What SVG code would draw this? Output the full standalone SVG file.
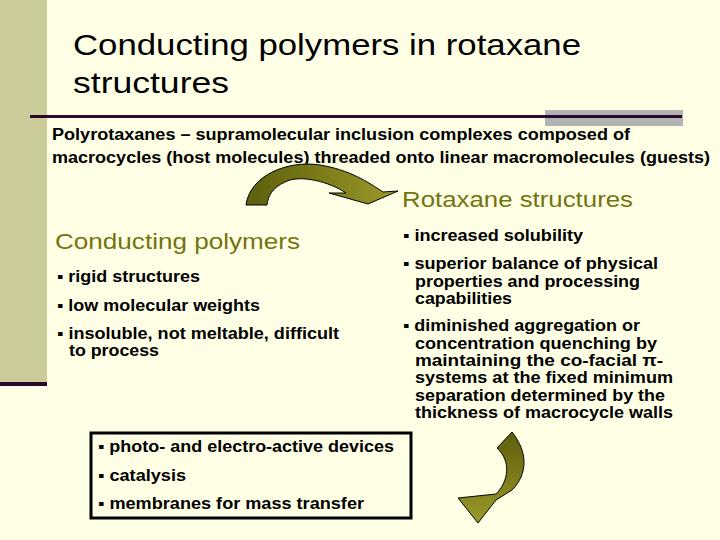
<svg xmlns="http://www.w3.org/2000/svg" width="720" height="540" viewBox="0 0 720 540">
<defs>
<linearGradient id="g1" x1="0" y1="0" x2="1" y2="0"><stop offset="0" stop-color="#5e5e0c"/><stop offset="1" stop-color="#9a9a2a"/></linearGradient>
<linearGradient id="g2" x1="0" y1="0" x2="0" y2="1"><stop offset="0" stop-color="#5e5e0c"/><stop offset="1" stop-color="#9a9a2a"/></linearGradient>
<style>
text{font-family:"Liberation Sans",Arial,sans-serif;fill:#000}
.t{font-size:30px}
.b{font-size:16px;font-weight:bold}
.h{font-size:22px;fill:#74740e}
.arr{stroke:#000;stroke-width:1}
</style>
</defs>
<rect width="720" height="540" fill="#ffffe6"/>
<rect x="0" y="0" width="47" height="382" fill="#cccc9a"/>
<rect x="0" y="382" width="47" height="4" fill="#2a0a2a"/>
<rect x="545" y="110" width="138" height="16" fill="#b3b3b3"/>
<rect x="30" y="115" width="652" height="3" fill="#2a0a2a"/>
<g id="title">
<text class="t" x="73" y="55" textLength="508" lengthAdjust="spacingAndGlyphs">Conducting polymers in rotaxane</text>
<text class="t" x="73" y="93" textLength="156" lengthAdjust="spacingAndGlyphs">structures</text>
</g>
<g id="intro">
<text class="b" x="52" y="140" textLength="578" lengthAdjust="spacingAndGlyphs">Polyrotaxanes – supramolecular inclusion complexes composed of</text>
<text class="b" x="52" y="163" textLength="658" lengthAdjust="spacingAndGlyphs">macrocycles (host molecules) threaded onto linear macromolecules (guests)</text>
</g>
<g id="connectors">
<path class="arr" fill="url(#g1)" d="M246,205 C250,175 288,160 320,165 C350,170 368,182 383,192 L398,191 L368,204 L329,193 L346,193 C330,182 300,174 285,182 C272,188 268,196 267,205 Z"/>
<path class="arr" fill="url(#g2)" d="M512,432 L497,448 C512,462 508,482 496,494 L458,498 L478,523 L496,500 L512,490 C528,474 528,452 512,432 Z"/>
</g>
<g id="rotaxane">
<text class="h" x="402" y="207" textLength="231" lengthAdjust="spacingAndGlyphs">Rotaxane structures</text>
<text class="b" x="403" y="241" textLength="180" lengthAdjust="spacingAndGlyphs">▪ increased solubility</text>
<text class="b" x="403" y="269" textLength="255" lengthAdjust="spacingAndGlyphs">▪ superior balance of physical</text>
<text class="b" x="415" y="287" textLength="225" lengthAdjust="spacingAndGlyphs">properties and processing</text>
<text class="b" x="415" y="304" textLength="97" lengthAdjust="spacingAndGlyphs">capabilities</text>
<text class="b" x="403" y="331" textLength="237" lengthAdjust="spacingAndGlyphs">▪ diminished aggregation or</text>
<text class="b" x="415" y="349" textLength="242" lengthAdjust="spacingAndGlyphs">concentration quenching by</text>
<text class="b" x="415" y="366" textLength="248" lengthAdjust="spacingAndGlyphs">maintaining the co-facial π-</text>
<text class="b" x="415" y="383" textLength="258" lengthAdjust="spacingAndGlyphs">systems at the fixed minimum</text>
<text class="b" x="415" y="401" textLength="250" lengthAdjust="spacingAndGlyphs">separation determined by the</text>
<text class="b" x="415" y="418" textLength="258" lengthAdjust="spacingAndGlyphs">thickness of macrocycle walls</text>
</g>
<g id="conducting">
<text class="h" x="55" y="249" textLength="245" lengthAdjust="spacingAndGlyphs">Conducting polymers</text>
<text class="b" x="57" y="282" textLength="143" lengthAdjust="spacingAndGlyphs">▪ rigid structures</text>
<text class="b" x="57" y="311" textLength="203" lengthAdjust="spacingAndGlyphs">▪ low molecular weights</text>
<text class="b" x="57" y="339" textLength="282" lengthAdjust="spacingAndGlyphs">▪ insoluble, not meltable, difficult</text>
<text class="b" x="69" y="356" textLength="90" lengthAdjust="spacingAndGlyphs">to process</text>
</g>
<g id="applications">
<rect x="91" y="433" width="320" height="85" fill="none" stroke="#000" stroke-width="3"/>
<text class="b" x="98" y="452" textLength="296" lengthAdjust="spacingAndGlyphs">▪ photo- and electro-active devices</text>
<text class="b" x="98" y="481" textLength="88" lengthAdjust="spacingAndGlyphs">▪ catalysis</text>
<text class="b" x="98" y="509" textLength="266" lengthAdjust="spacingAndGlyphs">▪ membranes for mass transfer</text>
</g>
</svg>
